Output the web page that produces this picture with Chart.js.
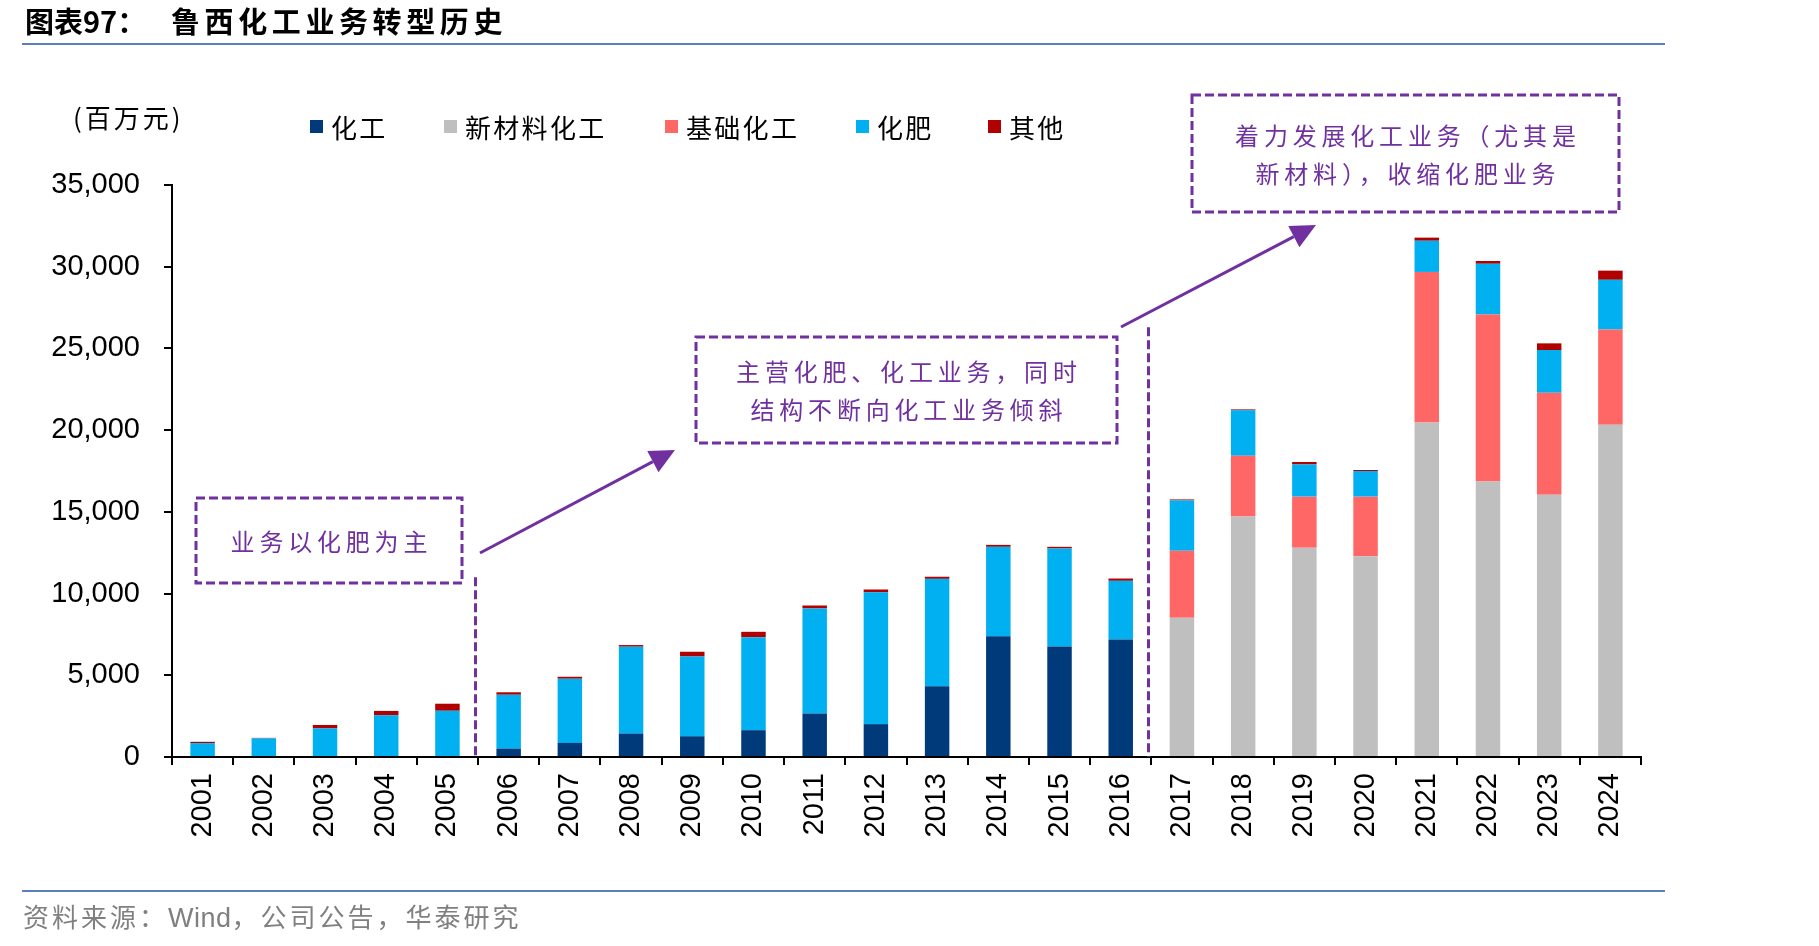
<!DOCTYPE html>
<html>
<head>
<meta charset="utf-8">
<script src="https://cdn.jsdelivr.net/npm/chart.js@4.4.1/dist/chart.umd.min.js"></script>
<style>
html,body{margin:0;padding:0;background:#fff;}
#wrap{position:relative;width:1819px;height:946px;overflow:hidden;font-family:"Noto Sans CJK SC","Noto Sans",sans-serif;}
#c{position:absolute;left:0;top:0;}
.abs{position:absolute;white-space:nowrap;line-height:1;}
.title{font-weight:bold;font-size:29px;color:#000;}
.hline{position:absolute;left:22px;width:1643px;height:2px;background:#5B7FBA;}
.unit{font-size:26px;color:#000;letter-spacing:3px;}
.leg{position:absolute;display:flex;align-items:center;font-size:26px;letter-spacing:2.3px;color:#000;white-space:nowrap;}
.leg i{display:inline-block;width:13px;height:13px;margin-right:8px;}
.boxtxt{position:absolute;display:flex;flex-direction:column;justify-content:center;align-items:center;color:#7030A0;font-size:24px;letter-spacing:4.8px;line-height:38px;white-space:nowrap;}
.boxtxt span{padding-left:4.8px;}
.foot{font-size:26px;color:#808080;letter-spacing:3px;}
.foot .w{letter-spacing:0.5px;font-family:"Liberation Sans",Arial,sans-serif;font-size:27px;}
</style>
</head>
<body>
<div id="wrap">
  <canvas id="c" width="1819" height="946"></canvas>
  <div class="abs title" style="left:25px;top:6px;">图表97：</div>
  <div class="abs title" style="left:171px;top:6px;letter-spacing:4.6px;">鲁西化工业务转型历史</div>
  <div class="hline" style="top:43px;"></div>
  <div class="abs unit" style="left:73px;top:104px;">(百万元)</div>
  <div id="legend"></div>
  <div class="boxtxt" style="left:196px;top:498px;width:266px;height:85px;"><span>业务以化肥为主</span></div>
  <div class="boxtxt" style="left:696px;top:337px;width:421px;height:106px;"><span>主营化肥、化工业务，同时</span><span>结构不断向化工业务倾斜</span></div>
  <div class="boxtxt" style="left:1192px;top:95px;width:427px;height:117px;"><span>着力发展化工业务（尤其是</span><span>新材料），收缩化肥业务</span></div>
  <div class="hline" style="top:890px;"></div>
  <div class="abs foot" style="left:23px;top:903px;">资料来源：<span class="w">Wind</span>，公司公告，华泰研究</div>
</div>
<script>
// ---- data ----
const years = ['2001','2002','2003','2004','2005','2006','2007','2008','2009','2010','2011','2012',
               '2013','2014','2015','2016','2017','2018','2019','2020','2021','2022','2023','2024'];
const chemical  = [null,null,null,null,null,510,860,1430,1270,1640,2660,2010,4330,7390,6760,7190,
                   null,null,null,null,null,null,null,null];
const newMaterial = [null,null,null,null,null,null,null,null,null,null,null,null,null,null,null,null,
                   8520,14720,12810,12280,20470,16850,16050,20330];
const basicChem = [null,null,null,null,null,null,null,null,null,null,null,null,null,null,null,null,
                   4100,3720,3120,3650,9210,10230,6240,5830];
const fertilizer = [850,1140,1750,2550,2830,3300,3930,5320,4880,5690,6430,8070,6570,5470,6000,3590,
                   3080,2770,1970,1570,1910,3100,2610,3040];
const others = [80,30,210,270,430,150,120,100,290,330,180,170,130,120,100,140,
                   60,60,150,60,190,170,410,560];
const seriesNames = ['化工','新材料化工','基础化工','化肥','其他'];
const seriesColors = ['#003A7A','#BFBFBF','#FF6666','#00B0F0','#B00000'];
const yTicks = [0,5000,10000,15000,20000,25000,30000,35000];

// ---- annotation geometry (not data) ----
const PURPLE = '#7030A0';
const BOXES = [
  {x:196,y:498,w:266,h:85},
  {x:696,y:337,w:421,h:106},
  {x:1192,y:95,w:427,h:117}
];
const DIVIDERS = [{at:4.5, top:11000},{at:15.5, top:26300}];
const ARROWS = [
  {x1:480,y1:553,x2:675,y2:450},
  {x1:1121,y1:327,x2:1316,y2:225}
];
const legendPos = [310,444,665,856,988];

// legend (HTML built from series arrays)
const legEl = document.getElementById('legend');
seriesNames.forEach((n,i)=>{
  const d=document.createElement('div');
  d.className='leg';
  d.style.left=legendPos[i]+'px';
  d.style.top='108px';
  d.innerHTML='<i style="background:'+seriesColors[i]+'"></i>'+n;
  legEl.appendChild(d);
});

const seriesData=[chemical,newMaterial,basicChem,fertilizer,others];

const annotPlugin = {
  id:'annot',
  afterDraw(chart){
    const ctx=chart.ctx, xs=chart.scales.x, ys=chart.scales.y;
    ctx.save();
    ctx.strokeStyle=PURPLE; ctx.lineWidth=3; ctx.setLineDash([9,4]);
    BOXES.forEach(b=>ctx.strokeRect(b.x,b.y,b.w,b.h));
    DIVIDERS.forEach(d=>{
      const x=Math.round(xs.getPixelForValue(d.at))-3;
      ctx.beginPath();
      ctx.moveTo(x+0.5, ys.getPixelForValue(d.top));
      ctx.lineTo(x+0.5, ys.getPixelForValue(0));
      ctx.stroke();
    });
    ctx.setLineDash([]);
    ctx.fillStyle=PURPLE;
    ARROWS.forEach(a=>{
      const ang=Math.atan2(a.y2-a.y1,a.x2-a.x1);
      const L=25, W=12;
      const bx=a.x2-L*Math.cos(ang), by=a.y2-L*Math.sin(ang);
      ctx.beginPath(); ctx.moveTo(a.x1,a.y1); ctx.lineTo(bx,by); ctx.stroke();
      ctx.beginPath();
      ctx.moveTo(a.x2,a.y2);
      ctx.lineTo(bx+W*Math.sin(ang), by-W*Math.cos(ang));
      ctx.lineTo(bx-W*Math.sin(ang), by+W*Math.cos(ang));
      ctx.closePath(); ctx.fill();
    });
    ctx.restore();
  }
};

new Chart(document.getElementById('c'),{
  type:'bar',
  data:{
    labels:years,
    datasets:seriesNames.map((n,i)=>({
      label:n, data:seriesData[i], backgroundColor:seriesColors[i],
      borderWidth:0, categoryPercentage:1.0, barPercentage:0.4, stack:'s'
    }))
  },
  options:{
    responsive:false, devicePixelRatio:1, animation:false,
    layout:{padding:{left:0,right:178,top:185,bottom:0}},
    plugins:{legend:{display:false},tooltip:{enabled:false},title:{display:false}},
    scales:{
      x:{
        stacked:true, offset:true,
        grid:{display:true,offset:true,drawOnChartArea:false,drawTicks:true,tickLength:8,color:'#000',lineWidth:2},
        border:{display:true,color:'#000',width:2},
        ticks:{autoSkip:false,minRotation:90,maxRotation:90,padding:8,color:'#000',
               font:{family:'"Liberation Sans", Arial, sans-serif',size:29}},
        afterFit(s){ s.height = 946-757; }
      },
      y:{
        stacked:true, min:0, max:35000,
        afterBuildTicks(s){ s.ticks = yTicks.map(v=>({value:v})); },
        grid:{display:true,drawOnChartArea:false,drawTicks:true,tickLength:8,color:'#000',lineWidth:2},
        border:{display:true,color:'#000',width:2},
        ticks:{padding:24,color:'#000',font:{family:'"Liberation Sans", Arial, sans-serif',size:29},
               callback:(v)=>Number(v).toLocaleString('en-US')},
        afterFit(s){ s.width = 172; }
      }
    }
  },
  plugins:[annotPlugin]
});
</script>
</body>
</html>
